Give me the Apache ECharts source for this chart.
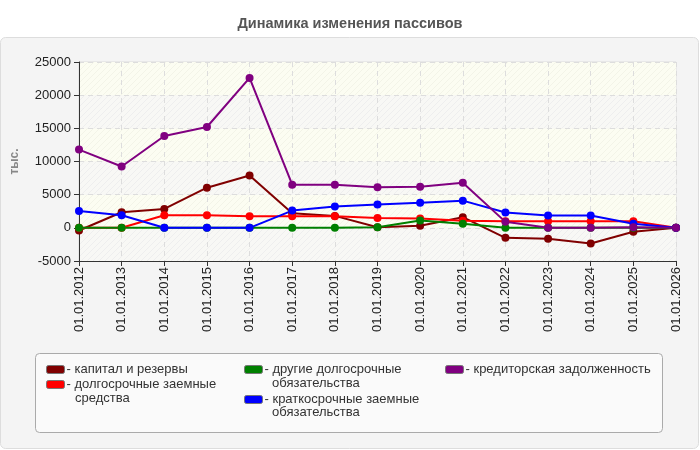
<!DOCTYPE html>
<html>
<head>
<meta charset="utf-8">
<script src="https://cdn.jsdelivr.net/npm/echarts@6/dist/echarts.min.js"></script>
<style>
html,body{margin:0;padding:0;background:#fff;}
#main{width:700px;height:450px;}
</style>
</head>
<body>
<div id="main"></div>
<script>
var years = ['01.01.2012','01.01.2013','01.01.2014','01.01.2015','01.01.2016','01.01.2017','01.01.2018',
	'01.01.2019','01.01.2020','01.01.2021','01.01.2022','01.01.2023','01.01.2024','01.01.2025','01.01.2026'];

var capital    = [-400, 2350, 2850, 6050, 7900, 2200, 1800, 100, 300, 1600, -1500, -1650, -2350, -600, 0];
var longLoans  = [0, 0, 1900, 1900, 1750, 1750, 1750, 1500, 1400, 1050, 1000, 1000, 1000, 1000, 0];
var otherLong  = [0, 0, 0, 0, 0, 0, 0, 100, 1100, 600, 0, 0, 0, 0, 0];
var shortLoans = [2550, 1900, 0, 0, 0, 2600, 3200, 3500, 3770, 4100, 2300, 1850, 1850, 600, 0];
var payables   = [11800, 9250, 13850, 15200, 22600, 6500, 6500, 6100, 6200, 6800, 900, 0, 0, 100, 0];

var names = ['капитал и резервы','долгосрочные заемные средства','другие долгосрочные обязательства',
	'краткосрочные заемные обязательства','кредиторская задолженность'];
var colors = ['#800000','#ff0000','#008000','#0000ff','#800080'];
var values = [capital, longLoans, otherLong, shortLoans, payables];

// hatch pattern for plot bands
function hatch(bg, line){
	var c = document.createElement('canvas');
	c.width = 6; c.height = 6;
	var ctx = c.getContext('2d');
	ctx.fillStyle = bg;
	ctx.fillRect(0,0,6,6);
	ctx.strokeStyle = line;
	ctx.lineWidth = 1;
	ctx.beginPath();
	ctx.moveTo(0,6); ctx.lineTo(6,0);
	ctx.moveTo(-1,1); ctx.lineTo(1,-1);
	ctx.moveTo(5,7); ctx.lineTo(7,5);
	ctx.stroke();
	return c;
}

var myChart = echarts.init(document.getElementById('main'));

function makeSeries(){
	var series = [];
	for(var i=0;i<values.length;i++){
		series.push({
			name: names[i],
			type: 'line',
			data: values[i],
			symbol: 'circle',
			symbolSize: 8,
			lineStyle: {width: 2, color: colors[i]},
			itemStyle: {color: colors[i]}
		});
	}
	return series;
}

// legend: one component per item, first line only; continuation lines drawn as text
var legendPos = [
	{x:46, y:363, txt:'- капитал и резервы'},
	{x:46, y:378, txt:'- долгосрочные заемные'},
	{x:244, y:363, txt:'- другие долгосрочные'},
	{x:244, y:393, txt:'- краткосрочные заемные'},
	{x:445, y:363, txt:'- кредиторская задолженность'}
];
var legends = [];
for(var j=0;j<names.length;j++){
	(function(k){
		legends.push({
			data: [names[k]],
			left: legendPos[k].x,
			top: legendPos[k].y,
			padding: 0,
			icon: 'roundRect',
			itemWidth: 18,
			itemHeight: 8,
			itemGap: 0,
			selectedMode: false,
			itemStyle: {borderColor: '#777', borderWidth: 1},
			textStyle: {color: '#333', fontSize: 13, fontFamily: 'Liberation Sans', padding: [0,0,0,-3]},
			formatter: function(){ return legendPos[k].txt; }
		});
	})(j);
}

var option = {
	animation: false,
	textStyle: {fontFamily: 'Liberation Sans'},
	title: {
		text: 'Динамика изменения пассивов',
		left: 'center',
		top: 11,
		textStyle: {fontSize: 14.5, fontWeight: 'bold', color: '#555', fontFamily: 'Liberation Sans'}
	},
	graphic: [
		{type:'rect', z:-10, shape:{x:0.5,y:37.5,width:698,height:411,r:5},
			style:{fill:'#f4f4f4', stroke:'#dddddd', lineWidth:1}},
		{type:'rect', z:-9, shape:{x:35.5,y:353.5,width:627,height:79,r:4},
			style:{fill:'#fafafa', stroke:'#aaaaaa', lineWidth:1}},
		{type:'text', left:75, top:392, style:{text:'средства', fill:'#333', font:'13px Liberation Sans'}},
		{type:'text', left:272, top:377, style:{text:'обязательства', fill:'#333', font:'13px Liberation Sans'}},
		{type:'text', left:272, top:406, style:{text:'обязательства', fill:'#333', font:'13px Liberation Sans'}}
	],
	legend: legends,
	grid: {
		left: 79, right: 24, top: 62, height: 199,
		show: true, borderColor: '#dddddd', borderWidth: 1, backgroundColor: 'transparent'
	},
	xAxis: {
		type: 'category',
		data: years,
		boundaryGap: false,
		axisLine: {onZero: false, lineStyle: {color: '#333'}},
		axisTick: {show: true, alignWithLabel: true, length: 5, lineStyle: {color: '#333'}},
		axisLabel: {rotate: 90, color: '#222', fontSize: 13, margin: 6, interval: 0},
		splitLine: {show: true, lineStyle: {color: '#dddddd', type: [5,4]}}
	},
	yAxis: {
		type: 'value',
		min: -5000, max: 25000, interval: 5000,
		name: 'тыс.',
		nameLocation: 'middle',
		nameGap: 58,
		nameRotate: 90,
		nameTextStyle: {color: '#888', fontSize: 12, fontWeight: 'bold'},
		axisLine: {show: true, lineStyle: {color: '#333'}},
		axisTick: {show: true, length: 5, lineStyle: {color: '#333'}},
		axisLabel: {color: '#222', fontSize: 13, margin: 8, formatter: function(v){ return String(v); }},
		splitLine: {show: true, lineStyle: {color: '#dddddd', type: [5,4]}},
		splitArea: {show: true, areaStyle: {color: [
			{image: hatch('#f8f8f5','#eeeeee'), repeat: 'repeat'},
			{image: hatch('#fcfdf2','#f3f4e8'), repeat: 'repeat'}
		]}}
	},
	series: makeSeries()
};

myChart.setOption(option);
</script>
</body>
</html>
